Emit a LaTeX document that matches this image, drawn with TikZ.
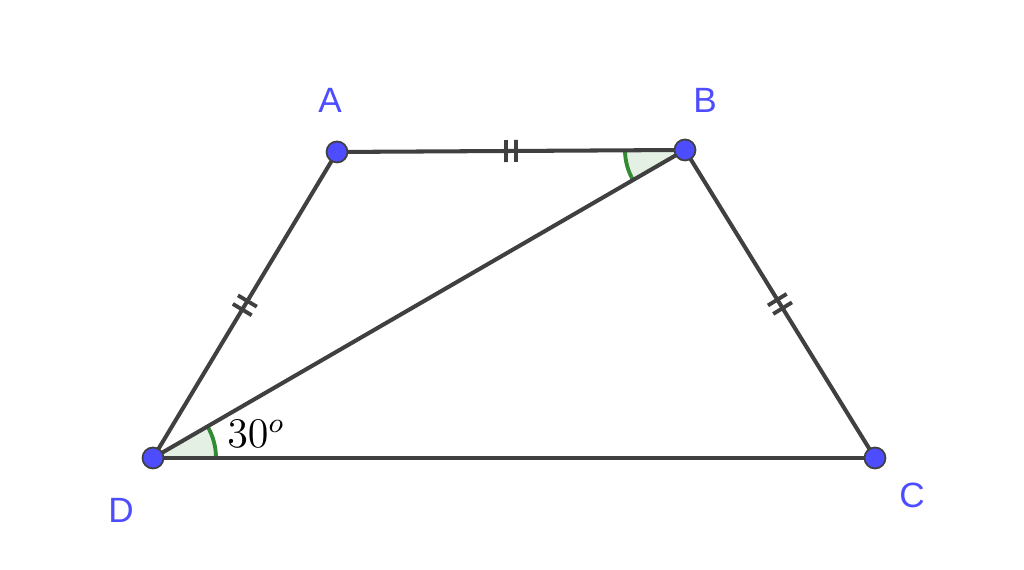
\documentclass[tikz,border=0pt]{standalone}
\usepackage{fontspec}
\setmainfont{Liberation Sans}
\usepackage{tikz}
\usetikzlibrary{positioning,calc,decorations.markings}
\definecolor{ptblue}{RGB}{77,77,255}
\definecolor{segray}{RGB}{64,64,64}
\definecolor{anggreen}{RGB}{0,110,0}

\tikzset{
  pt/.style={circle, fill=ptblue, draw=segray, line width=0.5pt, inner sep=0pt, minimum size=0.21cm},
  ptlabel/.style={text=ptblue, font=\fontsize{10}{12}\selectfont},
  seg/.style={segray, line width=1.15pt},
  twoticks/.style={postaction={decorate, decoration={markings,
      mark=at position 0.5 with {\draw[segray, line width=1.1pt] (-0.05,-0.11) -- (-0.05,0.11) (0.05,-0.11) -- (0.05,0.11);}}}}
}

\begin{document}
\begin{tikzpicture}
\useasboundingbox (0,0) rectangle (10.24,5.70);
% points
\coordinate (A) at (3.37,4.18);
\coordinate (B) at (6.85,4.20);
\coordinate (C) at (8.75,1.12);
\coordinate (D) at (1.53,1.12);

% angle marks
\fill[anggreen!10] (D) -- ($(D)!0.63cm!(C)$) arc[start angle=0, end angle=30, radius=0.63cm] -- cycle;
\draw[anggreen!80, line width=1.1pt] ($(D)!0.63cm!(C)$) arc[start angle=0, end angle=30, radius=0.63cm];
\fill[anggreen!10] (B) -- ($(B)!0.6cm!(A)$) arc[start angle=180.3, end angle=210.3, radius=0.6cm] -- cycle;
\draw[anggreen!80, line width=1.1pt] ($(B)!0.6cm!(A)$) arc[start angle=180.3, end angle=210.3, radius=0.6cm];

% sides
\draw[seg, twoticks] (A) -- (B);
\draw[seg, twoticks] (D) -- (A);
\draw[seg, twoticks] (B) -- (C);
\draw[seg] (D) -- (C);
\draw[seg] (D) -- (B);

\node[pt] (pA) at (A) {};
\node[pt] (pB) at (B) {};
\node[pt] (pC) at (C) {};
\node[pt] (pD) at (D) {};

\node[ptlabel] (lA) at (3.30,4.70) {A};
\node[ptlabel] (lB) at (7.05,4.70) {B};
\node[ptlabel] (lC) at (9.12,0.75) {C};
\node[ptlabel] (lD) at (1.21,0.60) {D};
\node[font=\fontsize{12}{14}\selectfont] (ang) at (2.56,1.36) {$30^o$};
\end{tikzpicture}
\end{document}
